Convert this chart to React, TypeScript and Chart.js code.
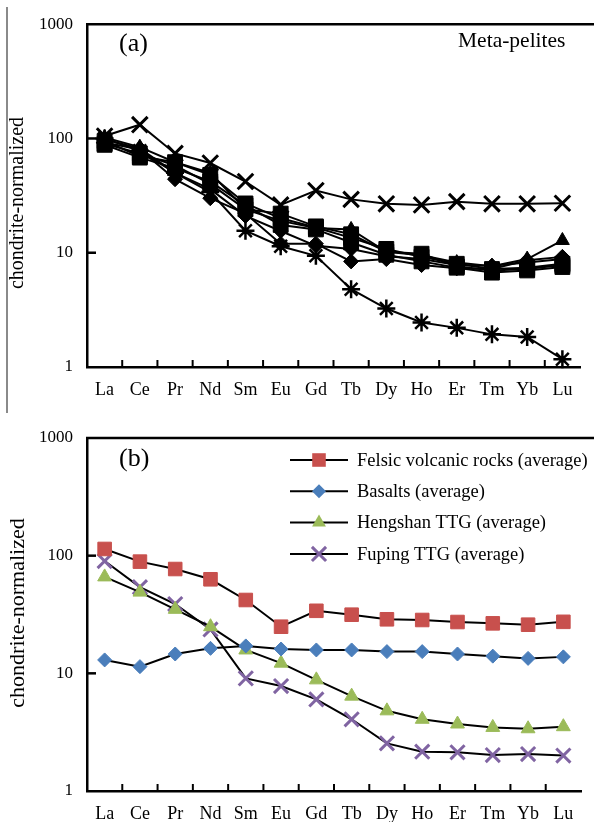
import React, { useEffect, useRef } from 'react';
import { Chart, registerables } from 'chart.js';

Chart.register(...registerables);

const SERIF = '"Liberation Serif", "Times New Roman", Times, serif';

// ---------- shared ----------
const elements = ['La', 'Ce', 'Pr', 'Nd', 'Sm', 'Eu', 'Gd', 'Tb', 'Dy', 'Ho', 'Er', 'Tm', 'Yb', 'Lu'];
const yTickValues = [1, 10, 100, 1000];
const yAxisTitle = 'chondrite-normalized';

// ---------- panel (a): meta-pelites ----------
const panelATag = '(a)';
const panelANote = 'Meta-pelites';
const peliteCross = [105, 132, 74, 61, 42, 26.2, 35, 29.3, 26.8, 26.2, 28, 26.8, 26.8, 27.1];
const peliteStar = [100, 78, 50, 34, 15.6, 11.4, 9.4, 4.8, 3.25, 2.45, 2.2, 1.93, 1.83, 1.17];
const peliteDiamond1 = [92, 80, 44, 30, 22, 12, 12, 8.4, 8.8, 7.8, 7.3, 7.2, 8.6, 9.2];
const peliteTriangle = [102, 84, 62, 50, 24, 19, 16.5, 16, 10.2, 9.5, 8.2, 7.6, 8.8, 12.8];
const peliteSquare1 = [95, 70, 62, 48, 27, 20, 16.6, 13.5, 10.8, 9.2, 8.0, 7.2, 7.4, 8.0];
const peliteSquare2 = [88, 68, 55, 42, 26, 17.5, 16, 12.3, 9.6, 8.4, 7.4, 6.7, 7.0, 7.5];
const peliteDiamond2 = [98, 82, 50, 36, 21, 15.5, 11.5, 10.8, 9.3, 8.8, 7.8, 7.7, 8.2, 8.8];
const peliteSquare3 = [90, 74, 58, 40, 24, 22, 17, 14.5, 10.2, 9.8, 7.6, 7.0, 7.2, 7.8];

// ---------- panel (b): averages ----------
const panelBTag = '(b)';
const felsicVolcanic = [114, 89, 77, 63, 42, 24.9, 34, 31.5, 28.8, 28.4, 27.3, 26.6, 25.9, 27.4];
const basalts = [13.0, 11.4, 14.6, 16.3, 17.1, 16.1, 15.8, 15.8, 15.3, 15.3, 14.6, 14.0, 13.4, 13.8];
const hengshanTTG = [66, 49, 35, 24.9, 15.8, 12.2, 8.8, 6.4, 4.8, 4.07, 3.71, 3.47, 3.38, 3.52];
const fupingTTG = [90, 54, 38.8, 23.6, 9.06, 7.8, 6.0, 4.07, 2.54, 2.16, 2.13, 2.02, 2.06, 2.0];
const legendLabels = [
  'Felsic volcanic rocks (average)',
  'Basalts (average)',
  'Hengshan TTG (average)',
  'Fuping TTG (average)',
];

const COLORS = {
  red: '#C8504D',
  blue: '#4A7EBB',
  green: '#9BBB59',
  purple: '#8064A2',
};

type Marker = { style: string; radius: number; color: string; lw: number };

function drawMarker(ctx: CanvasRenderingContext2D, m: Marker, x: number, y: number) {
  ctx.save();
  ctx.fillStyle = m.color;
  ctx.strokeStyle = m.color;
  ctx.lineWidth = m.lw;
  const r = m.radius;
  ctx.beginPath();
  if (m.style === 'rect') {
    const s = Math.SQRT1_2 * r;
    ctx.rect(x - s, y - s, 2 * s, 2 * s);
    ctx.fill();
  } else if (m.style === 'rectRot') {
    ctx.moveTo(x - r, y);
    ctx.lineTo(x, y - r);
    ctx.lineTo(x + r, y);
    ctx.lineTo(x, y + r);
    ctx.closePath();
    ctx.fill();
  } else if (m.style === 'triangle') {
    for (let i = 0; i < 3; i++) {
      const a = (i * 2 * Math.PI) / 3;
      const px = x + Math.sin(a) * r;
      const py = y - Math.cos(a) * r;
      if (i === 0) ctx.moveTo(px, py);
      else ctx.lineTo(px, py);
    }
    ctx.closePath();
    ctx.fill();
  } else if (m.style === 'crossRot') {
    const o = Math.SQRT1_2 * r;
    ctx.moveTo(x - o, y - o);
    ctx.lineTo(x + o, y + o);
    ctx.moveTo(x - o, y + o);
    ctx.lineTo(x + o, y - o);
    ctx.stroke();
  }
  ctx.restore();
}

type Decor = {
  titleSize: number;
  titleY: number;
  tag: string;
  tagY: number;
  note?: string;
  noteY?: number;
  grayLine?: [number, number];
  legend?: { labels: string[]; markers: Marker[]; y0: number; dy: number };
};

function makeDecorPlugin(d: Decor) {
  return {
    id: 'decor',
    afterDraw(chart: any) {
      const ctx: CanvasRenderingContext2D = chart.ctx;
      const { left, top, bottom } = chart.chartArea;
      const xs = chart.scales.x;
      const ys = chart.scales.y;
      ctx.save();
      ctx.strokeStyle = '#000';
      ctx.lineWidth = 2.5;
      // top frame line
      ctx.beginPath();
      ctx.moveTo(left - 1, top);
      ctx.lineTo(chart.width, top);
      ctx.stroke();
      // inward y ticks
      [10, 100].forEach((v) => {
        const py = ys.getPixelForValue(v);
        ctx.beginPath();
        ctx.moveTo(left, py);
        ctx.lineTo(left + 9, py);
        ctx.stroke();
      });
      // inward x ticks between categories
      ctx.lineWidth = 2;
      for (let i = 0; i < elements.length - 1; i++) {
        const px = (xs.getPixelForValue(i) + xs.getPixelForValue(i + 1)) / 2;
        ctx.beginPath();
        ctx.moveTo(px, bottom);
        ctx.lineTo(px, bottom - 7);
        ctx.stroke();
      }
      // gray scan line
      if (d.grayLine) {
        ctx.strokeStyle = '#8a8a8a';
        ctx.lineWidth = 2;
        ctx.beginPath();
        ctx.moveTo(7, d.grayLine[0]);
        ctx.lineTo(7, d.grayLine[1]);
        ctx.stroke();
      }
      ctx.fillStyle = '#000';
      // y title
      ctx.save();
      ctx.translate(18, d.titleY);
      ctx.rotate(-Math.PI / 2);
      ctx.font = `${d.titleSize}px ${SERIF}`;
      ctx.textAlign = 'center';
      ctx.textBaseline = 'middle';
      ctx.fillText(yAxisTitle, 0, 0);
      ctx.restore();
      // panel tag
      ctx.font = `26px ${SERIF}`;
      ctx.textAlign = 'left';
      ctx.textBaseline = 'middle';
      ctx.fillText(d.tag, 119, d.tagY);
      if (d.note) {
        ctx.font = `21.5px ${SERIF}`;
        ctx.fillText(d.note, 458, d.noteY || 0);
      }
      if (d.legend) {
        const L = d.legend;
        L.labels.forEach((lab, i) => {
          const y = L.y0 + i * L.dy;
          ctx.strokeStyle = '#000';
          ctx.lineWidth = 2;
          ctx.beginPath();
          ctx.moveTo(290, y);
          ctx.lineTo(348, y);
          ctx.stroke();
          drawMarker(ctx, L.markers[i], 319, y);
          ctx.fillStyle = '#000';
          ctx.font = `18.5px ${SERIF}`;
          ctx.textAlign = 'left';
          ctx.textBaseline = 'middle';
          ctx.fillText(lab, 357, y + 1);
        });
      }
      ctx.restore();
    },
  };
}

function makeScales(xHeight: number) {
  return {
    x: {
      type: 'category',
      offset: true,
      grid: { display: false, drawTicks: false },
      border: { display: true, color: '#000', width: 2.5 },
      ticks: {
        color: '#000',
        font: { family: SERIF, size: 18 },
        padding: 12,
        maxRotation: 0,
        autoSkip: false,
      },
      afterFit: (s: any) => {
        s.height = xHeight;
      },
    },
    y: {
      type: 'logarithmic',
      min: 1,
      max: 1000,
      grid: { display: false, drawTicks: false },
      border: { display: true, color: '#000', width: 2.5 },
      ticks: {
        color: '#000',
        font: { family: SERIF, size: 17 },
        padding: 14,
        callback: (v: any) => String(v),
      },
      afterBuildTicks: (s: any) => {
        s.ticks = yTickValues.map((v) => ({ value: v }));
      },
      afterFit: (s: any) => {
        s.width = 87;
      },
    },
  };
}

function baseOptions(padTop: number, xHeight: number) {
  return {
    responsive: false,
    animation: false,
    events: [],
    layout: { padding: { top: padTop, left: 0, right: 0, bottom: 0 } },
    plugins: { legend: { display: false }, tooltip: { enabled: false } },
    scales: makeScales(xHeight),
  };
}

function series(data: number[], m: Marker, lineColor = '#000', lineWidth = 2) {
  return {
    data,
    borderColor: lineColor,
    borderWidth: lineWidth,
    backgroundColor: m.color,
    pointStyle: m.style,
    pointRadius: m.radius,
    pointBackgroundColor: m.color,
    pointBorderColor: m.color,
    pointBorderWidth: m.lw,
    tension: 0,
    clip: false,
  };
}

const BLACK = '#000';
const mA = {
  cross: { style: 'crossRot', radius: 11, color: BLACK, lw: 3 },
  star: { style: 'star', radius: 9, color: BLACK, lw: 2.5 },
  diamond: { style: 'rectRot', radius: 7.5, color: BLACK, lw: 1 },
  triangle: { style: 'triangle', radius: 8, color: BLACK, lw: 1 },
  square: { style: 'rect', radius: 10.5, color: BLACK, lw: 1 },
};
const mB: Marker[] = [
  { style: 'rect', radius: 9.6, color: COLORS.red, lw: 1 },
  { style: 'rectRot', radius: 7, color: COLORS.blue, lw: 1 },
  { style: 'triangle', radius: 8, color: COLORS.green, lw: 1 },
  { style: 'crossRot', radius: 10, color: COLORS.purple, lw: 3 },
];

export default function App() {
  const refA = useRef<HTMLCanvasElement>(null);
  const refB = useRef<HTMLCanvasElement>(null);

  useEffect(() => {
    Chart.defaults.font.family = SERIF;
    const chartA = new Chart(refA.current as HTMLCanvasElement, {
      type: 'line',
      data: {
        labels: elements,
        datasets: [
          series(peliteSquare1, mA.square),
          series(peliteSquare2, mA.square),
          series(peliteSquare3, mA.square),
          series(peliteDiamond1, mA.diamond),
          series(peliteDiamond2, mA.diamond),
          series(peliteTriangle, mA.triangle),
          series(peliteStar, mA.star),
          series(peliteCross, mA.cross),
        ] as any,
      },
      options: baseOptions(14, 43) as any,
      plugins: [
        makeDecorPlugin({
          titleSize: 20,
          titleY: 203,
          tag: panelATag,
          tagY: 44,
          note: panelANote,
          noteY: 41,
          grayLine: [7, 410],
        }),
      ],
    });
    const chartB = new Chart(refB.current as HTMLCanvasElement, {
      type: 'line',
      data: {
        labels: elements,
        datasets: [
          series(felsicVolcanic, mB[0]),
          series(basalts, mB[1]),
          series(hengshanTTG, mB[2]),
          series(fupingTTG, mB[3]),
        ] as any,
      },
      options: baseOptions(28, 31) as any,
      plugins: [
        makeDecorPlugin({
          titleSize: 22,
          titleY: 203,
          tag: panelBTag,
          tagY: 49,
          grayLine: [0, 3],
          legend: { labels: legendLabels, markers: mB, y0: 50, dy: 31.3 },
        }),
      ],
    });
    return () => {
      chartA.destroy();
      chartB.destroy();
    };
  }, []);

  return (
    <div style={{ position: 'absolute', left: 0, top: 0, width: 594, height: 822, background: '#fff' }}>
      <canvas ref={refA} width={594} height={410} style={{ display: 'block', width: 594, height: 410 }} />
      <canvas ref={refB} width={594} height={412} style={{ display: 'block', width: 594, height: 412 }} />
    </div>
  );
}
